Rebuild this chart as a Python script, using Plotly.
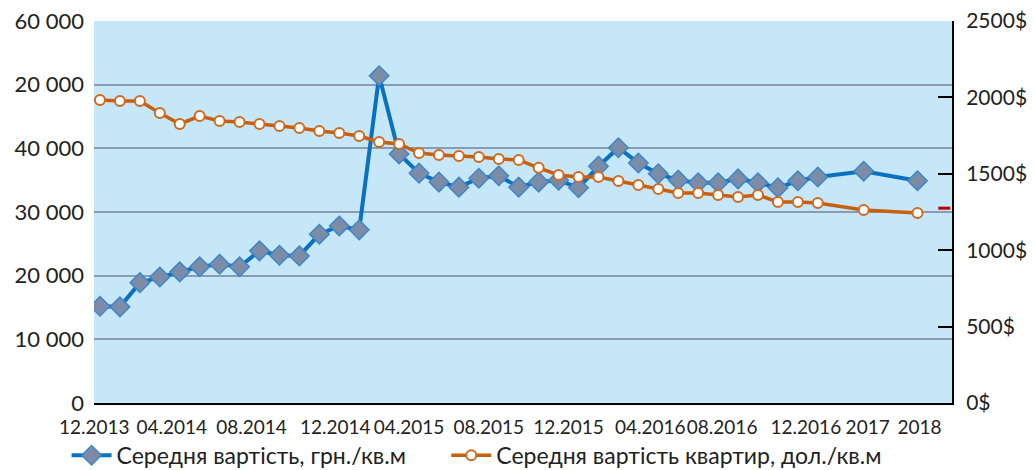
import plotly.graph_objects as go

# ---- data ----
period_labels = ["12.2013", "04.2014", "08.2014", "12.2014", "04.2015", "08.2015",
                 "12.2015", "04.2016", "08.2016", "12.2016", "2017", "2018"]
# period index of every observation (months from 12.2013; last two are yearly points)
period_index = list(range(37)) + [38.3, 41.0]
# where the category labels sit along the axis
label_index = [-0.29, 3.6, 7.6, 11.8, 15.5, 19.5, 23.5, 27.6, 31.2, 35.4, 38.5, 41.1]

uah_per_m2 = [15200, 15100, 18900, 19800, 20600, 21400, 21800, 21400, 23900, 23200,
              23100, 26500, 27800, 27200, 51400, 39100, 36100, 34700, 33900, 35300,
              35700, 33900, 34700, 35000, 33800, 37200, 40100, 37700, 36000, 35000,
              34600, 34600, 35200, 34600, 33800, 34900, 35500, 36400, 34900]
usd_per_m2 = [1983, 1977, 1977, 1898, 1826, 1878, 1846, 1839, 1826, 1813,
              1800, 1780, 1767, 1747, 1708, 1695, 1636, 1623, 1616, 1610,
              1597, 1591, 1539, 1492, 1479, 1479, 1453, 1427, 1400, 1374,
              1374, 1361, 1348, 1361, 1316, 1316, 1309, 1263, 1243]

left_tickvals = [0, 10000, 20000, 30000, 40000, 50000, 60000]
left_ticktext = ["0", "10 000", "20 000", "30 000", "40 000", "20 000", "60 000"]
right_tickvals = [0, 500, 1000, 1500, 2000, 2500]
right_ticktext = ["0$", "500$", "1000$", "1500$", "2000$", "2500$"]

name_uah = "Середня вартість, грн./кв.м"
name_usd = "Середня вартість квартир, дол./кв.м"

FONT = "Lato"
TXT = "#222222"
GAP = "\u00a0" * 6  # extra spacing between the two legend entries

fig = go.Figure()
fig.add_trace(go.Scatter(
    x=period_index, y=uah_per_m2, name=name_uah + GAP, mode="lines+markers",
    line=dict(color="#0A70C0", width=4),
    marker=dict(symbol="diamond", size=15, color="#7C8CA6",
                line=dict(color="#3F86C8", width=1.5)),
))
fig.add_trace(go.Scatter(
    x=period_index, y=usd_per_m2, name=name_usd, mode="lines+markers", yaxis="y2",
    line=dict(color="#C5600F", width=3.5),
    marker=dict(symbol="circle", size=10, color="white",
                line=dict(color="#D2691E", width=2)),
))

fig.add_shape(type="line", xref="paper", yref="paper",
              x0=0.984, x1=0.998, y0=0.51, y1=0.51,
              line=dict(color="#C00000", width=3))

fig.update_layout(
    width=1027, height=462,
    margin=dict(l=86, r=83, t=13, b=67, autoexpand=False),
    paper_bgcolor="white",
    plot_bgcolor="#C5E7F7",
    font=dict(family=FONT, size=20, color=TXT),
    showlegend=True,
    legend=dict(orientation="h", x=-0.032, xanchor="left", y=-0.137, yanchor="middle",
                font=dict(size=23, family=FONT, color=TXT), bgcolor="rgba(0,0,0,0)",
                itemwidth=40, tracegroupgap=0),
    xaxis=dict(
        range=[-0.3, 42.73], tickmode="array", tickvals=label_index, ticktext=period_labels,
        showgrid=False, zeroline=False, showline=True, linecolor="black", linewidth=2,
        ticks="", tickfont=dict(size=19, family=FONT, color=TXT),
        tickangle=0, automargin=False, ticklabelstandoff=6, ticklabeloverflow="allow",
    ),
    yaxis=dict(
        range=[0, 60000], tickmode="array", tickvals=left_tickvals, ticktext=left_ticktext,
        showgrid=True, gridcolor="#8A9BB3", gridwidth=2, zeroline=False, showline=False,
        ticks="", tickfont=dict(size=22, family=FONT, color=TXT), automargin=False,
        ticklabelstandoff=9, ticklabeloverflow="allow",
    ),
    yaxis2=dict(
        range=[0, 2500], overlaying="y", side="right", tickmode="array",
        tickvals=right_tickvals, ticktext=right_ticktext,
        showgrid=False, zeroline=False, showline=True, linecolor="black", linewidth=2,
        ticks="inside", ticklen=14, tickwidth=2, tickcolor="black",
        tickfont=dict(size=21, family=FONT, color=TXT), automargin=False,
        ticklabelstandoff=8, ticklabeloverflow="allow",
    ),
)

fig.write_html("out.html")
